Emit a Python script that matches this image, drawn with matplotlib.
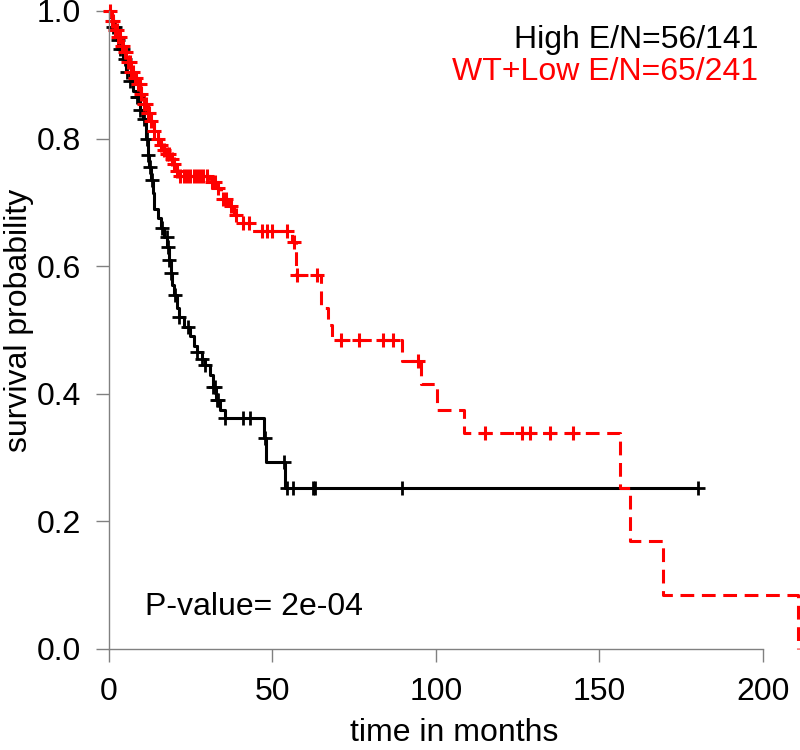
import numpy as np
import matplotlib
matplotlib.use("Agg")
import matplotlib.pyplot as plt

plt.rcParams['font.family'] = ['Liberation Sans', 'DejaVu Sans']

# High E/N group: drop times (months) and survival after each drop
high_t = [0.5, 1.5, 2.5, 3.5, 4.5, 5.5, 6.5, 7.5, 8.5, 9.5, 10.5, 11.5, 12, 12.5, 13, 13.5, 14,
          15, 16, 17, 18, 18.5, 19, 19.5, 20, 21, 21.5, 23, 25, 26, 27, 28.5, 29.5, 31, 32, 33, 34,
          35.5, 47.5, 48.2, 54]
high_s = [0.99, 0.975, 0.955, 0.94, 0.925, 0.905, 0.89, 0.875, 0.865, 0.845, 0.83, 0.80, 0.775,
          0.755, 0.735, 0.715, 0.69, 0.675, 0.66, 0.645, 0.63, 0.61, 0.59, 0.57, 0.555, 0.535, 0.52,
          0.505, 0.49, 0.475, 0.465, 0.455, 0.445, 0.43, 0.41, 0.39, 0.375, 0.362, 0.33, 0.293, 0.252]
high_end = 180.2
high_cens = [1.5, 2, 2.9, 3.5, 4.4, 5, 5.6, 6.5, 8.7, 9, 9.6, 11, 11.8, 12.2, 12.7, 13.3, 16.3,
             17.8, 18.2, 18.6, 19.2, 20.2, 21.5, 24.3, 27, 28.5, 29.5, 32, 32.5, 33.2, 33.6, 35.6,
             41, 43.3, 47.8, 53.5, 54.5, 56.4, 62.5, 63, 89.7, 180.2]

# WT+Low E/N group
low_t = [1, 2, 3, 4, 5, 6, 7, 8, 9, 10, 11, 12, 13, 14, 15, 16, 17, 18, 19, 20, 21, 22, 31, 33,
         34.5, 36.5, 38.5, 41, 44, 56, 57.2, 65, 67, 68.3, 89.7, 95.5, 100.5, 108.5, 156.3, 159.5,
         169.4, 210.7]
low_s = [0.985, 0.97, 0.96, 0.945, 0.935, 0.92, 0.905, 0.895, 0.885, 0.87, 0.855, 0.84, 0.827,
         0.812, 0.80, 0.79, 0.782, 0.776, 0.768, 0.76, 0.75, 0.742, 0.732, 0.722, 0.706, 0.694,
         0.68, 0.667, 0.655, 0.638, 0.586, 0.535, 0.508, 0.484, 0.452, 0.415, 0.375, 0.339,
         0.253, 0.17, 0.085, 0.0]
low_cens = [0.5, 1, 1.5, 2, 2.5, 3, 3.5, 4, 4.5, 5, 5.5, 6, 6.5, 7, 7.5, 8, 8.5, 9, 9.5, 10, 11,
            11.5, 12, 12.5, 13, 14, 15, 16, 17, 18, 18.5, 19.5, 20, 21, 22, 23, 24, 25, 26, 27, 28,
            29, 30, 31.5, 32.5, 33.5, 35, 36, 37.5, 39, 41, 43, 47, 48.5, 50, 54.5, 56.8, 57.6,
            63.7, 71, 76.4, 84, 87, 94.6, 115, 126.4, 128.8, 134.9, 142]

labels = ["High E/N=56/141", "WT+Low E/N=65/241"]
colors = ["#000000", "#ff0000"]
x_ticks = [0, 50, 100, 150, 200]
y_ticks = [0.0, 0.2, 0.4, 0.6, 0.8, 1.0]
pvalue_text = "P-value= 2e-04"


def km_at(times, surv, when):
    t = np.r_[0, times]
    s = np.r_[1.0, surv]
    idx = np.searchsorted(t, when, side='right') - 1
    return s[idx]


fig = plt.figure(figsize=(8, 7.5), dpi=100)
ax = fig.add_axes([108.5 / 800, 101 / 750, 691.5 / 800, 638 / 750])
ax.set_xlim(0, 211.3)
ax.set_ylim(0, 1)

# high group, solid black
hx = np.r_[0, high_t, high_end]
hy = np.r_[1.0, high_s, high_s[-1]]
ax.step(hx, hy, where='post', color=colors[0], lw=2.2, clip_on=False)
ax.plot(high_cens, km_at(high_t, high_s, high_cens), '+', color=colors[0], ms=9.5, mew=2.0,
        clip_on=False)

# low group, dashed red
lx = np.r_[0, low_t]
ly = np.r_[1.0, low_s]
ax.step(lx, ly, where='post', color=colors[1], lw=2.2, ls=(0, (4.5, 2.5)), clip_on=False)
ax.plot(low_cens, km_at(low_t, low_s, low_cens), '+', color=colors[1], ms=9.5, mew=2.2,
        clip_on=False)

for side in ['top', 'right']:
    ax.spines[side].set_visible(False)
ax.spines['left'].set_bounds(0, 1)
ax.spines['bottom'].set_bounds(0, 200)
for side in ['left', 'bottom']:
    ax.spines[side].set_color('#808080')
    ax.spines[side].set_linewidth(1)

ax.set_xticks(x_ticks)
ax.set_yticks(y_ticks)
ax.set_yticklabels(["{:.1f}".format(v) for v in y_ticks])
ax.tick_params(color='#808080', length=9.4, width=1, pad=10.5, labelsize=23)

fig.text(19 / 800, 1 - 320 / 750, "survival probability", rotation=90, ha='center', va='center',
         fontsize=23)
fig.text(454 / 800, 1 - 733 / 750, "time in months", ha='center', va='center', fontsize=23)
fig.text(758 / 800, 1 - 40 / 750, labels[0], ha='right', va='center', fontsize=23, color=colors[0])
fig.text(758 / 800, 1 - 72 / 750, labels[1], ha='right', va='center', fontsize=23, color=colors[1])
fig.text(145 / 800, 1 - 607 / 750, pvalue_text, ha='left', va='center', fontsize=23)

fig.savefig("out.png", dpi=100)
